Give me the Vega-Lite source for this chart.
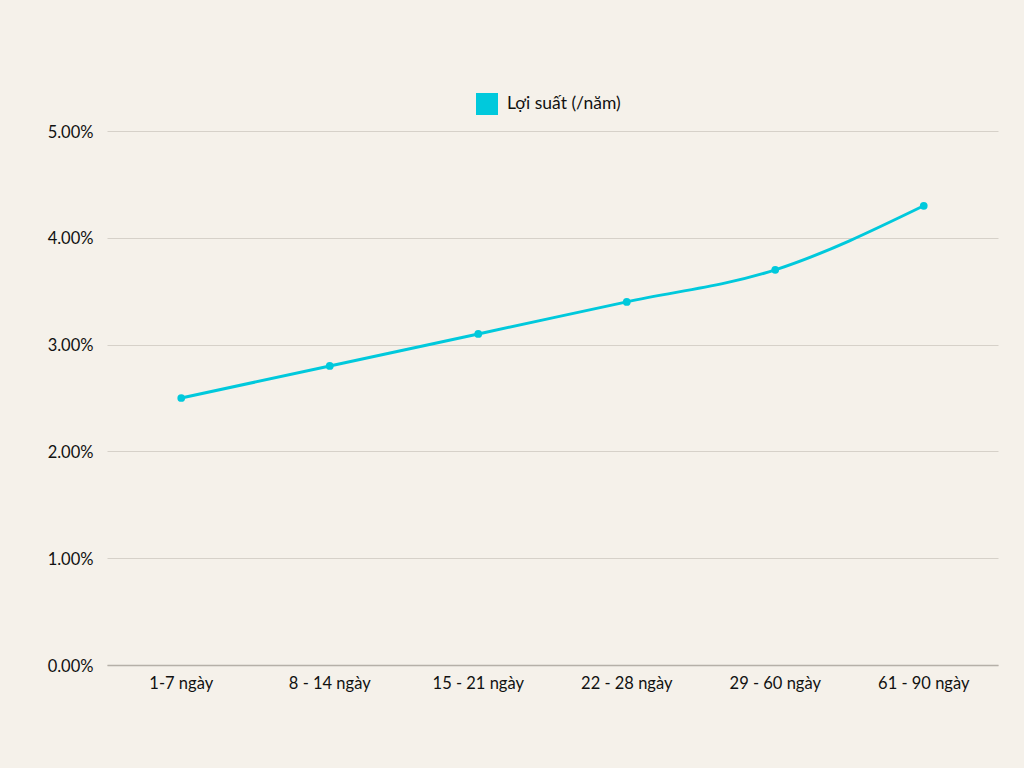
{
  "$schema": "https://vega.github.io/schema/vega-lite/v6.json",
  "width": 891,
  "height": 534,
  "autosize": {"type": "none"},
  "padding": {"left": 107, "top": 131, "right": 26, "bottom": 103},
  "background": "#f5f1ea",
  "config": {
    "view": {"stroke": null},
    "font": "Lato",
    "axis": {"labelFont": "Lato", "labelFontSize": 16.5, "labelColor": "#111111"},
    "legend": {"labelFont": "Lato", "labelFontSize": 17.5, "labelColor": "#111111"}
  },
  "data": {
    "values": [
      {"term": "1-7 ngày", "rate": 0.025, "series": "Lợi suất (/năm)"},
      {"term": "8 - 14 ngày", "rate": 0.028, "series": "Lợi suất (/năm)"},
      {"term": "15 - 21 ngày", "rate": 0.031, "series": "Lợi suất (/năm)"},
      {"term": "22 - 28 ngày", "rate": 0.034, "series": "Lợi suất (/năm)"},
      {"term": "29 - 60 ngày", "rate": 0.037, "series": "Lợi suất (/năm)"},
      {"term": "61 - 90 ngày", "rate": 0.043, "series": "Lợi suất (/năm)"}
    ]
  },
  "mark": {"type": "line", "interpolate": "monotone", "strokeWidth": 3, "point": {"filled": true, "size": 60}},
  "encoding": {
    "x": {
      "field": "term", "type": "nominal", "sort": null, "title": null,
      "scale": {"type": "band", "paddingInner": 0, "paddingOuter": 0},
      "axis": {"labelAngle": 0, "ticks": false, "grid": false, "domain": true, "domainColor": "#b5b0a8", "domainWidth": 1.5, "labelPadding": 10, "labelOverlap": false}
    },
    "y": {
      "field": "rate", "type": "quantitative", "title": null,
      "scale": {"domain": [0, 0.05], "nice": false},
      "axis": {"format": ".2%", "values": [0, 0.01, 0.02, 0.03, 0.04, 0.05], "ticks": false, "domain": false, "gridColor": "#d6d1c9", "gridWidth": 1, "labelPadding": 14, "labelOverlap": false, "labelOffset": 1}
    },
    "color": {
      "field": "series", "type": "nominal", "scale": {"range": ["#00c9dc"]},
      "legend": {"title": null, "orient": "none", "legendX": 369, "legendY": -38, "symbolType": "square", "symbolSize": 484, "symbolFillColor": "#00c9dc", "symbolStrokeWidth": 0, "labelOffset": 9}
    }
  }
}
